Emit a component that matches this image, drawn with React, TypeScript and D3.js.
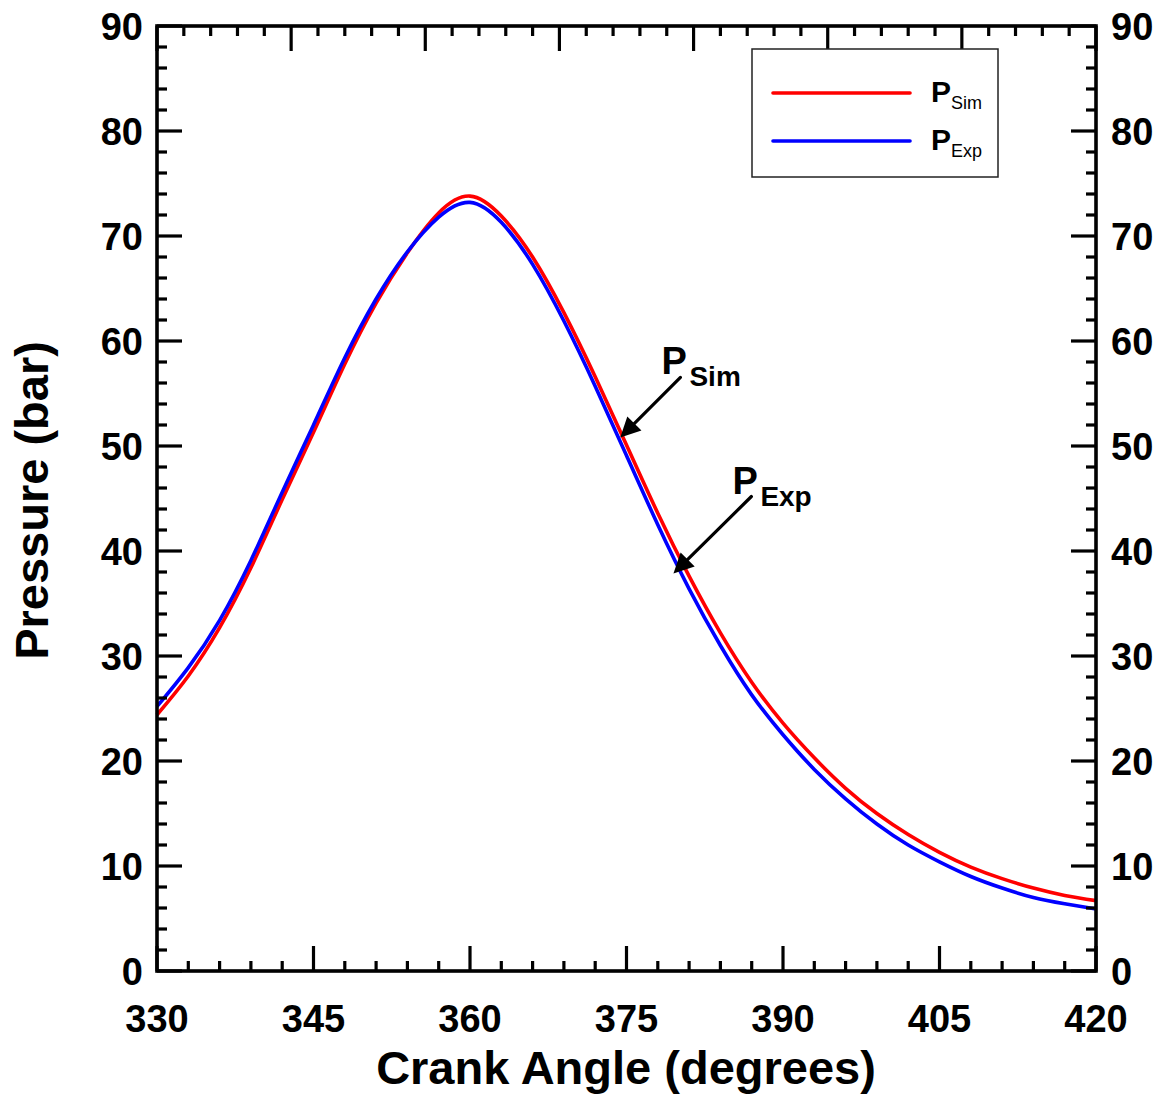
import React from "react";
import * as d3 from "d3";

// Crank angle samples (degrees)
const angles = [
  330, 333, 336, 339, 342, 345, 348, 351, 354, 357, 360, 363, 366, 369, 372, 375,
  378, 381, 384, 387, 390, 393, 396, 399, 402, 405, 408, 411, 414, 417, 420,
];

// Simulated cylinder pressure (bar)
const pSim = [
  24.4, 28.1, 32.7, 38.4, 44.9, 51.3, 57.8, 63.6, 68.4, 72.2, 73.8, 71.9, 68.0, 62.7, 56.6, 50.1,
  43.6, 37.6, 32.2, 27.5, 23.6, 20.3, 17.4, 15.0, 13.0, 11.3, 9.9, 8.8, 7.9, 7.2, 6.7,
];

// Experimental cylinder pressure (bar)
const pExp = [
  25.2, 28.9, 33.4, 39.1, 45.6, 52.0, 58.4, 64.0, 68.5, 71.8, 73.2, 71.3, 67.3, 61.9, 55.7, 49.1,
  42.5, 36.4, 31.0, 26.3, 22.5, 19.2, 16.4, 14.0, 12.0, 10.4, 9.0, 7.9, 7.0, 6.4, 5.9,
];

const xTicks = [330, 345, 360, 375, 390, 405, 420];
const yTicks = [0, 10, 20, 30, 40, 50, 60, 70, 80, 90];

const seriesNames = ["Sim", "Exp"];
const seriesColors = ["#ff0000", "#0000ff"];

// Arrow callouts: tail and tip given as [angle, pressure]
const callouts = [
  { sub: "Sim", tail: [380.17, 56.53], tip: [374.4, 50.8] },
  { sub: "Exp", tail: [386.97, 45.19], tip: [379.5, 37.85] },
];

const W = 1161;
const H = 1095;
const M = { left: 157, right: 1096, top: 26, bottom: 971 };
const FONT = "'Liberation Sans', Arial, Helvetica, sans-serif";

export default function App() {
  const x = d3.scaleLinear().domain([330, 420]).range([M.left, M.right]);
  const y = d3.scaleLinear().domain([0, 90]).range([M.bottom, M.top]);

  const line = (vals: number[]) =>
    d3
      .line<number>()
      .x((_, i) => x(angles[i]))
      .y((v) => y(v))
      .curve(d3.curveNatural)(vals) as string;

  const xMinor = d3.range(330, 420.001, 3);
  const yMinor = d3.range(0, 90.001, 2);
  // top axis carries its own 7-division scale
  const topScale = d3.scaleLinear().domain([0, 35]).range([M.left, M.right]);
  const topMinor = d3.range(0, 36);

  const tickStroke = 3.2;
  const majorLen = 25;
  const minorLen = 10;

  const arrowHead = (tail: number[], tip: number[]) => {
    const x0 = x(tail[0]);
    const y0 = y(tail[1]);
    const x1 = x(tip[0]);
    const y1 = y(tip[1]);
    const dx = x1 - x0;
    const dy = y1 - y0;
    const len = Math.hypot(dx, dy);
    const ux = dx / len;
    const uy = dy / len;
    const hl = 20;
    const hw = 10;
    const bx = x1 - ux * hl;
    const by = y1 - uy * hl;
    return {
      line: [x0, y0, bx + ux * 2, by + uy * 2],
      head: `M${x1},${y1}L${bx - uy * hw},${by + ux * hw}L${bx + uy * hw},${by - ux * hw}Z`,
    };
  };

  return (
    <svg
      width={W}
      height={H}
      style={{ position: "absolute", left: 0, top: 0, background: "#fff" }}
      fontFamily={FONT}
    >
      <rect width={W} height={H} fill="#fff" />

      {/* curves */}
      <g fill="none" strokeWidth={3.6} strokeLinejoin="round">
        <path d={line(pSim)} stroke={seriesColors[0]} />
        <path d={line(pExp)} stroke={seriesColors[1]} />
      </g>

      {/* ticks on all four sides */}
      <g stroke="#000" strokeWidth={tickStroke}>
        {xMinor.map((v) => {
          const major = (v - 330) % 15 === 0;
          return (
            <line
              key={"bx" + v}
              x1={x(v)}
              x2={x(v)}
              y1={M.bottom}
              y2={M.bottom - (major ? majorLen : minorLen)}
            />
          );
        })}
        {topMinor.map((v) => {
          const major = v % 5 === 0;
          return (
            <line
              key={"tx" + v}
              x1={topScale(v)}
              x2={topScale(v)}
              y1={M.top}
              y2={M.top + (major ? majorLen : minorLen)}
            />
          );
        })}
        {yMinor.map((v) => {
          const major = v % 10 === 0;
          return (
            <g key={"y" + v}>
              <line
                x1={M.left}
                x2={M.left + (major ? majorLen : minorLen)}
                y1={y(v)}
                y2={y(v)}
              />
              <line
                x1={M.right}
                x2={M.right - (major ? majorLen : minorLen)}
                y1={y(v)}
                y2={y(v)}
              />
            </g>
          );
        })}
      </g>

      {/* frame */}
      <rect
        x={M.left}
        y={M.top}
        width={M.right - M.left}
        height={M.bottom - M.top}
        fill="none"
        stroke="#000"
        strokeWidth={3.6}
      />

      {/* tick labels */}
      <g fontSize={38} fontWeight="bold" fill="#000">
        {xTicks.map((v) => (
          <text key={"xl" + v} x={x(v)} y={1032} textAnchor="middle">
            {v}
          </text>
        ))}
        {yTicks.map((v) => (
          <g key={"yl" + v}>
            <text x={143} y={y(v) + 13.6} textAnchor="end">
              {v}
            </text>
            <text x={1111} y={y(v) + 13.6} textAnchor="start">
              {v}
            </text>
          </g>
        ))}
      </g>

      {/* axis titles */}
      <text x={626} y={1084} textAnchor="middle" fontSize={47} fontWeight="bold">
        Crank Angle (degrees)
      </text>
      <text
        transform={`translate(48,${(M.top + M.bottom) / 2 + 2}) rotate(-90)`}
        textAnchor="middle"
        fontSize={47}
        fontWeight="bold"
      >
        Pressure (bar)
      </text>

      {/* legend */}
      <rect x={752} y={49} width={246} height={128} fill="#fff" stroke="#222" strokeWidth={1.5} />
      {seriesNames.map((name, i) => (
        <g key={"lg" + name}>
          <line
            x1={773}
            x2={910}
            y1={93 + i * 48}
            y2={93 + i * 48}
            stroke={seriesColors[i]}
            strokeWidth={3.6}
            strokeLinecap="round"
          />
          <text x={931} y={102 + i * 48} fontSize={30} fontWeight="bold">
            P
          </text>
          <text x={951} y={108.5 + i * 48} fontSize={18}>
            {name}
          </text>
        </g>
      ))}

      {/* callouts */}
      {callouts.map((c) => {
        const a = arrowHead(c.tail, c.tip);
        const tx = x(c.tail[0]);
        const ty = y(c.tail[1]);
        return (
          <g key={"co" + c.sub}>
            <line
              x1={a.line[0]}
              y1={a.line[1]}
              x2={a.line[2]}
              y2={a.line[3]}
              stroke="#000"
              strokeWidth={3.2}
              strokeLinecap="round"
            />
            <path d={a.head} fill="#000" />
            <text x={tx - 19} y={ty - 3} fontSize={38} fontWeight="bold">
              P
            </text>
            <text x={tx + 9} y={ty + 9} fontSize={28} fontWeight="bold">
              {c.sub}
            </text>
          </g>
        );
      })}
    </svg>
  );
}
